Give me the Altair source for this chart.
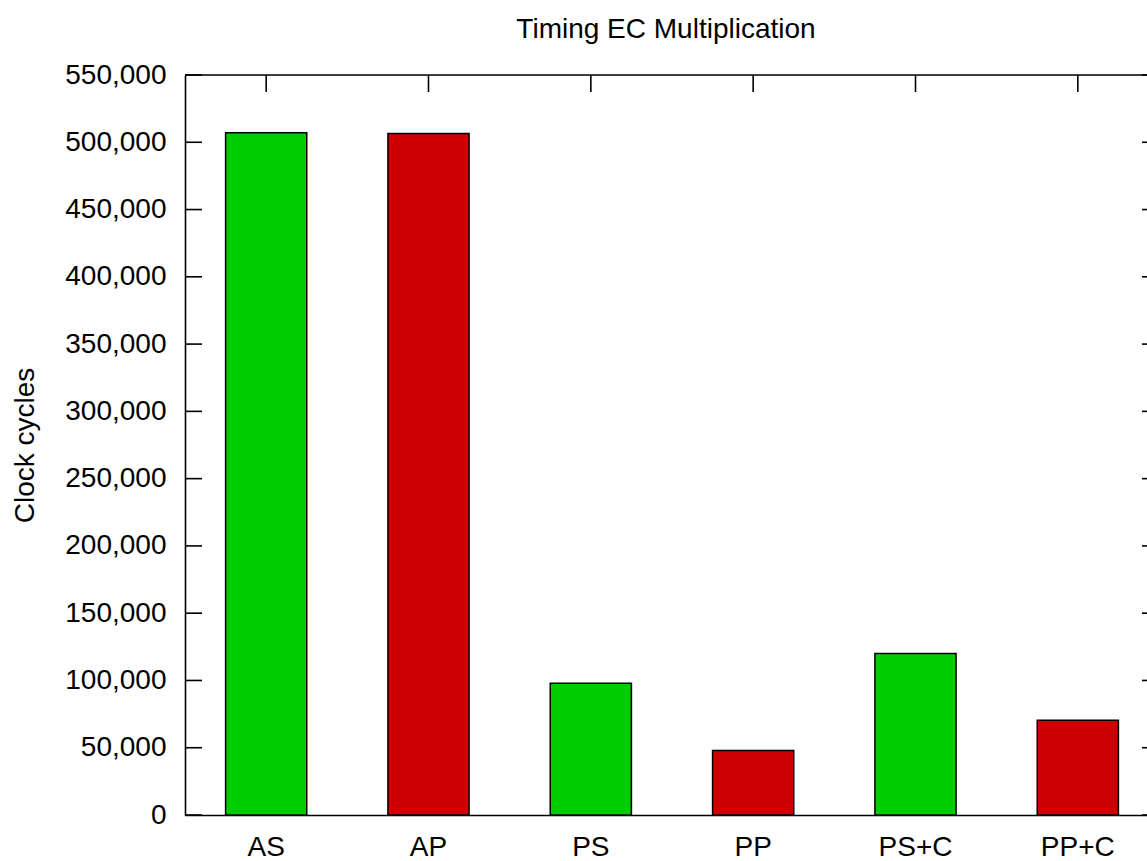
import altair as alt
import pandas as pd

# ---- data ----
categories = ["AS", "AP", "PS", "PP", "PS+C", "PP+C"]
cycles = [507000, 506500, 98000, 48000, 120000, 70500]
bar_colors = ["#00cc00", "#cc0000", "#00cc00", "#cc0000", "#00cc00", "#cc0000"]
y_tick_values = [0, 50000, 100000, 150000, 200000, 250000, 300000,
                 350000, 400000, 450000, 500000, 550000]

title_text = "Timing EC Multiplication"
y_title = "Clock cycles"

FONT = "Liberation Sans"
FS = 28
W, H = 962, 740
RANGE_W = 974  # band range extends a little past the visible right edge
TICK = 17
LW = 1.6

bars_df = pd.DataFrame({"cat": categories, "value": cycles, "color": bar_colors})
ticks_df = pd.DataFrame({"t": y_tick_values})
cats_df = pd.DataFrame({"cat": categories})
one_df = pd.DataFrame({"k": [0]})

x_scale = alt.Scale(domain=categories, range=[0, RANGE_W],
                    paddingInner=0.5, paddingOuter=0.25)
y_scale = alt.Scale(domain=[0, 550000], nice=False, zero=True)

x_axis = alt.Axis(title=None, labelAngle=0, labelFont=FONT, labelFontSize=FS,
                  labelColor="black", labelPadding=18, ticks=False, tickSize=0,
                  domain=True, domainColor="black", domainWidth=LW,
                  grid=False, labelBaseline="top")
y_axis = alt.Axis(title=y_title, values=y_tick_values, format=",d",
                  labelFont=FONT, labelFontSize=FS, labelColor="black",
                  labelPadding=19, ticks=False, tickSize=0,
                  domain=True, domainColor="black", domainWidth=LW,
                  grid=False,
                  titleFont=FONT, titleFontSize=FS, titleFontWeight="normal",
                  titleColor="black", titleX=-152, titleY=H / 2,
                  titleAngle=270, titleAlign="center",
                  titleBaseline="alphabetic")

bars = alt.Chart(bars_df).mark_bar(stroke="black", strokeWidth=1.5).encode(
    x=alt.X("cat:N", sort=categories, scale=x_scale, axis=x_axis),
    y=alt.Y("value:Q", scale=y_scale, axis=y_axis),
    color=alt.Color("color:N", scale=None),
)

left_ticks = alt.Chart(ticks_df).mark_rule(color="black", strokeWidth=LW).encode(
    y=alt.Y("t:Q", scale=y_scale, axis=y_axis), x=alt.value(0), x2=alt.value(TICK)
)
right_ticks = alt.Chart(ticks_df).mark_rule(color="black", strokeWidth=LW).encode(
    y=alt.Y("t:Q", scale=y_scale, axis=y_axis),
    x=alt.value(RANGE_W - TICK), x2=alt.value(RANGE_W)
)
top_ticks = alt.Chart(cats_df).mark_rule(color="black", strokeWidth=LW).encode(
    x=alt.X("cat:N", sort=categories, scale=x_scale, axis=x_axis),
    y=alt.value(0), y2=alt.value(TICK)
)
top_border = alt.Chart(one_df).mark_rule(color="black", strokeWidth=LW).encode(
    x=alt.value(0), x2=alt.value(RANGE_W), y=alt.value(0)
)

chart = alt.layer(bars, left_ticks, right_ticks, top_ticks, top_border).properties(
    width=W, height=H,
    title=alt.TitleParams(title_text, font=FONT, fontSize=FS, fontWeight="normal",
                          color="black", anchor="middle", offset=17),
    autosize=alt.AutoSizeParams(type="none"),
    padding={"left": 185, "top": 75, "right": 0, "bottom": 861 - 75 - H},
).configure_view(stroke=None).configure(background="white")

chart.save("out.html", embed_options={"renderer": "svg", "actions": False})
